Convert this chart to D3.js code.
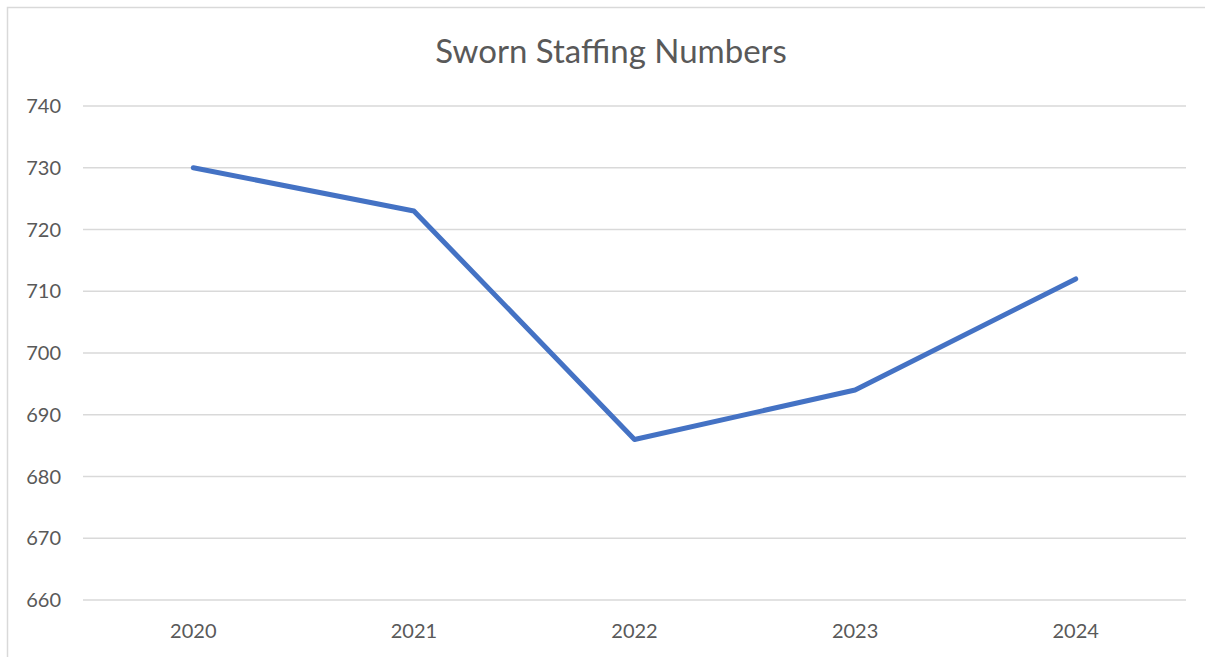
<!DOCTYPE html>
<html>
<head>
<meta charset="utf-8">
<script src="https://cdn.jsdelivr.net/npm/d3@7"></script>
<style>
  body { margin: 0; background: #fff; }
  svg text { font-family: Lato, "Open Sans", sans-serif; fill: #595959; }
</style>
</head>
<body>
<div id="vis"></div>
<script>
var w = 1205, h = 657;

// chart data
var years = ["2020", "2021", "2022", "2023", "2024"];
var staffing = [730, 723, 686, 694, 712];
var yTicks = [660, 670, 680, 690, 700, 710, 720, 730, 740];

var svg = d3.select("#vis").append("svg")
    .attr("width", w)
    .attr("height", h);

// chart border
svg.append("rect")
    .attr("x", 7.5).attr("y", 7.5)
    .attr("width", 1210).attr("height", 670)
    .attr("fill", "none")
    .attr("stroke", "#d9d9d9")
    .attr("stroke-width", 1.5);

var x = d3.scaleBand()
    .domain(years)
    .range([83, 1186]);

var y = d3.scaleLinear()
    .domain([660, 740])
    .range([600, 106]);

// gridlines
svg.append("g")
    .selectAll("line")
    .data(yTicks)
    .enter()
    .append("line")
    .attr("x1", 83).attr("x2", 1186)
    .attr("y1", function(d){ return y(d); })
    .attr("y2", function(d){ return y(d); })
    .attr("stroke", "#d9d9d9")
    .attr("stroke-width", 1.5);

// y axis labels
svg.append("g")
    .selectAll("text")
    .data(yTicks)
    .enter()
    .append("text")
    .attr("x", 61)
    .attr("y", function(d){ return y(d); })
    .attr("dy", "0.35em")
    .attr("text-anchor", "end")
    .style("font-size", "20px")
    .text(function(d){ return d; });

// x axis labels
svg.append("g")
    .selectAll("text")
    .data(years)
    .enter()
    .append("text")
    .attr("x", function(d){ return x(d) + x.bandwidth() / 2; })
    .attr("y", 631)
    .attr("dy", "0.35em")
    .attr("text-anchor", "middle")
    .style("font-size", "20px")
    .text(function(d){ return d; });

// title
svg.append("text")
    .attr("x", 611)
    .attr("y", 51)
    .attr("dy", "0.35em")
    .attr("text-anchor", "middle")
    .style("font-size", "33px")
    .text("Sworn Staffing Numbers");

// the line
var line = d3.line()
    .x(function(d, i){ return x(years[i]) + x.bandwidth() / 2; })
    .y(function(d){ return y(d); });

svg.append("path")
    .datum(staffing)
    .attr("d", line)
    .attr("fill", "none")
    .attr("stroke", "#4472c4")
    .attr("stroke-width", 5)
    .attr("stroke-linecap", "round")
    .attr("stroke-linejoin", "round");
</script>
</body>
</html>
